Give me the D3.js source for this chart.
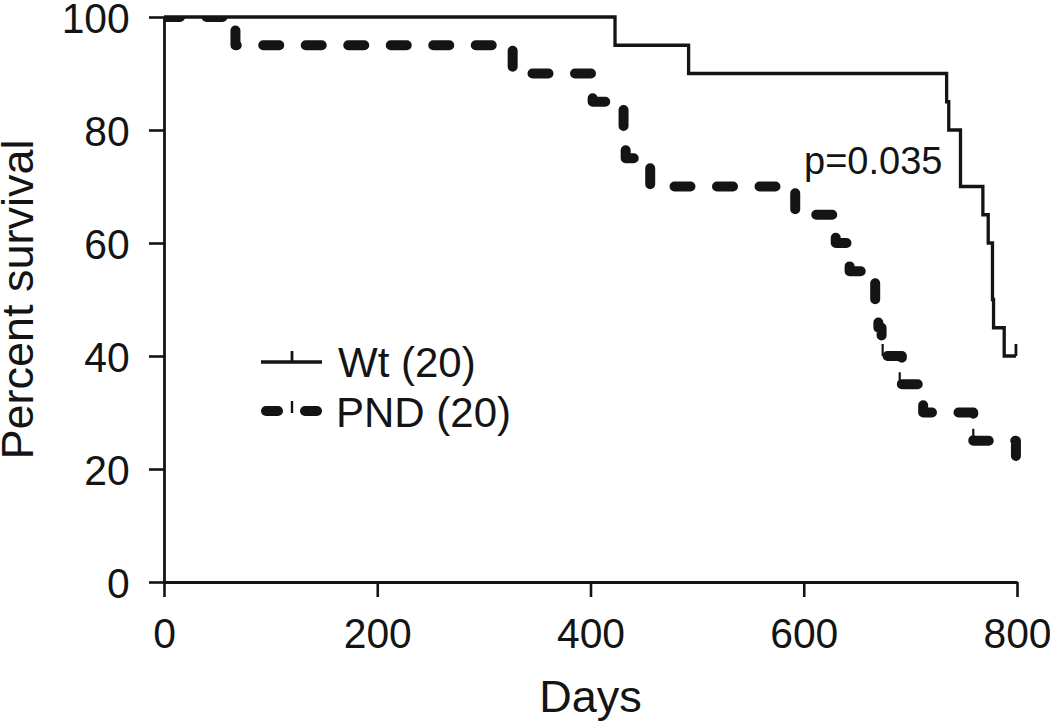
<!DOCTYPE html>
<html>
<head>
<meta charset="utf-8">
<script src="https://cdn.jsdelivr.net/npm/d3@7/dist/d3.min.js"></script>
<style>
  html, body { margin: 0; padding: 0; background: #fff; }
  svg { display: block; font-family: "Liberation Sans", Arial, Helvetica, sans-serif; }
</style>
</head>
<body>
<svg id="chart" width="1050" height="723"></svg>
<script>
// ---- Data ----
const xTicks = [0, 200, 400, 600, 800];
const yTicks = [0, 20, 40, 60, 80, 100];

// Wt (20): step points (day, percent surviving after that day)
const wtDays = [0, 423, 492, 734, 736, 747, 768, 773, 777, 778, 788, 799];
const wtSurv = [100, 95, 90, 85, 80, 70, 65, 60, 50, 45, 40, 40];
const wtCensorDays = [799];
const wtCensorSurv = [40];

// PND (20)
const pndDays = [0, 67, 327, 402, 431, 433, 456, 592, 630, 643, 667, 670, 673, 692, 712, 759, 799];
const pndSurv = [100, 95, 90, 85, 80, 75, 70, 65, 60, 55, 50, 45, 40, 35, 30, 25, 20];
const pndCensorDays = [674, 690, 759];
const pndCensorSurv = [40, 35, 25];

const seriesNames = ["Wt (20)", "PND (20)"];
const pLabel = "p=0.035";

// ---- Layout ----
const W = 1050, H = 723;
const margin = { left: 164, top: 17, right: 33, bottom: 141 };
const ink = "#141414";
const tickScale = 0.95;

const svg = d3.select("#chart");
const x = d3.scaleLinear().domain([0, 800]).range([margin.left, W - margin.right]);
const y = d3.scaleLinear().domain([0, 100]).range([H - margin.bottom, margin.top]);

// Axes
const xAxis = d3.axisBottom(x).tickValues(xTicks).tickSize(15).tickSizeOuter(0).tickPadding(20);
const yAxis = d3.axisLeft(y).tickValues(yTicks).tickSize(15).tickSizeOuter(0).tickPadding(21);

const gx = svg.append("g").attr("transform", `translate(0,${y(0)})`).call(xAxis);
const gy = svg.append("g").attr("transform", `translate(${x(0)},0)`).call(yAxis);

[gx, gy].forEach(g => {
  g.select(".domain").attr("stroke", ink).attr("stroke-width", 2.8);
  g.selectAll(".tick line").attr("stroke", ink).attr("stroke-width", 2.6);
  g.selectAll(".tick text").attr("fill", ink).style("font-size", "43px")
    .style("font-family", '"Liberation Sans", Arial, sans-serif')
    .attr("transform", `scale(${tickScale},1)`);
});
gy.selectAll(".tick text").attr("dy", "0.35em");

// Axis titles
svg.append("text")
  .attr("x", (x(0) + x(800)) / 2).attr("y", 712)
  .attr("text-anchor", "middle").attr("fill", ink)
  .style("font-size", "45px").text("Days");

svg.append("text")
  .attr("transform", `translate(33,${(y(0) + y(100)) / 2}) rotate(-90)`)
  .attr("text-anchor", "middle").attr("fill", ink)
  .style("font-size", "45px").text("Percent survival");

// Clip for the thick dashed line (top is cut at the 100% level)
svg.append("defs").append("clipPath").attr("id", "plotclip")
  .append("rect")
  .attr("x", x(0)).attr("y", y(100) - 1)
  .attr("width", x(800) - x(0) + 20).attr("height", y(0) - y(100) + 2);

const line = d3.line()
  .x(d => x(d[0])).y(d => y(d[1]))
  .curve(d3.curveStepAfter);

const pndPts = pndDays.map((d, i) => [d, pndSurv[i]]);
const wtPts = wtDays.map((d, i) => [d, wtSurv[i]]);

// PND thick dashed
svg.append("path")
  .datum(pndPts)
  .attr("clip-path", "url(#plotclip)")
  .attr("d", line)
  .attr("fill", "none")
  .attr("stroke", ink)
  .attr("stroke-width", 10)
  .attr("stroke-linecap", "round")
  .attr("stroke-linejoin", "round")
  .attr("stroke-dasharray", "16 26.5");

// PND censor ticks
svg.append("g").selectAll("line")
  .data(pndCensorDays.map((d, i) => [d, pndCensorSurv[i]]))
  .join("line")
  .attr("x1", d => x(d[0])).attr("x2", d => x(d[0]))
  .attr("y1", d => y(d[1])).attr("y2", d => y(d[1]) - 12)
  .attr("stroke", ink).attr("stroke-width", 2.2);

// Wt solid
svg.append("path")
  .datum(wtPts)
  .attr("d", line)
  .attr("fill", "none")
  .attr("stroke", ink)
  .attr("stroke-width", 3.3)
  .attr("stroke-linejoin", "miter");

// Wt censor ticks
svg.append("g").selectAll("line")
  .data(wtCensorDays.map((d, i) => [d, wtCensorSurv[i]]))
  .join("line")
  .attr("x1", d => x(d[0])).attr("x2", d => x(d[0]))
  .attr("y1", d => y(d[1])).attr("y2", d => y(d[1]) - 12)
  .attr("stroke", ink).attr("stroke-width", 2.8);

// p-value annotation
svg.append("text")
  .attr("x", 804).attr("y", 174)
  .attr("fill", ink).style("font-size", "38px").text(pLabel);

// Legend
const lg = svg.append("g");
// Wt
lg.append("line").attr("x1", 261).attr("x2", 322).attr("y1", 362).attr("y2", 362)
  .attr("stroke", ink).attr("stroke-width", 3.3);
lg.append("line").attr("x1", 292).attr("x2", 292).attr("y1", 351).attr("y2", 362)
  .attr("stroke", ink).attr("stroke-width", 2.8);
lg.append("text").attr("x", 338).attr("y", 377).attr("fill", ink)
  .style("font-size", "42px").text(seriesNames[0]);
// PND
lg.append("line").attr("x1", 266).attr("x2", 278).attr("y1", 411).attr("y2", 411)
  .attr("stroke", ink).attr("stroke-width", 10).attr("stroke-linecap", "round");
lg.append("line").attr("x1", 305).attr("x2", 317).attr("y1", 411).attr("y2", 411)
  .attr("stroke", ink).attr("stroke-width", 10).attr("stroke-linecap", "round");
lg.append("line").attr("x1", 292).attr("x2", 292).attr("y1", 401).attr("y2", 413)
  .attr("stroke", ink).attr("stroke-width", 2.4);
lg.append("text").attr("x", 336).attr("y", 427).attr("fill", ink)
  .style("font-size", "42px").text(seriesNames[1]);
</script>
</body>
</html>
